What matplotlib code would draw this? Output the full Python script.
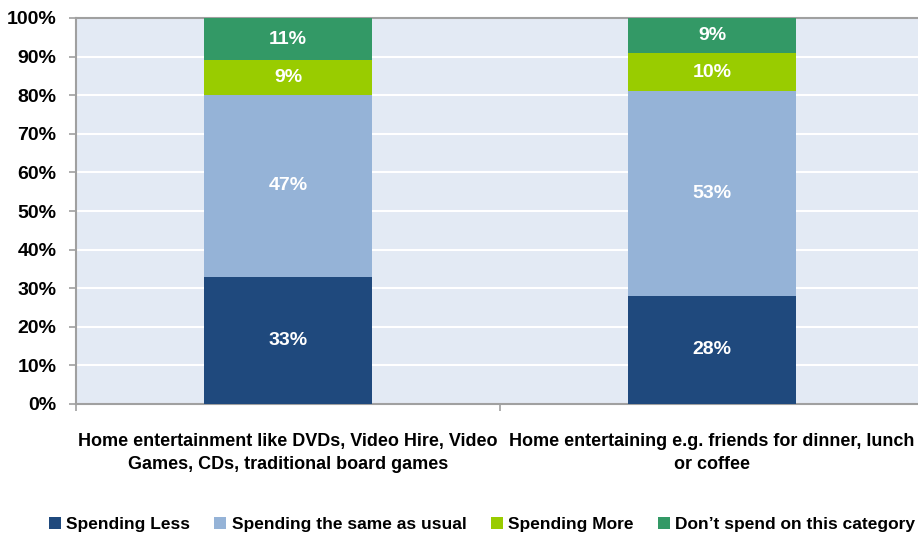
import numpy as np
import matplotlib
matplotlib.use("Agg")
from matplotlib import pyplot as plt
from matplotlib.ticker import FixedLocator

plt.rcParams['font.family'] = ['Liberation Sans', 'DejaVu Sans']
plt.rcParams['font.weight'] = 'bold'

categories = ['Home entertainment like DVDs, Video Hire, Video\nGames, CDs, traditional board games',
              'Home entertaining e.g. friends for dinner, lunch\nor coffee']
series = ['Spending Less', 'Spending the same as usual', 'Spending More',
          'Don\u2019t spend on this category']
less = [33, 28]
same = [47, 53]
more = [9, 10]
dont = [11, 9]
colors = ['#1F497D', '#95B3D7', '#99CC00', '#339966']

fig = plt.figure(figsize=(9.18, 5.36), dpi=100)
ax = fig.add_axes([76/918, 1-404/536, (924-76)/918, (404-18)/536])
ax.set_facecolor('#E3EAF4')

x = np.arange(len(categories))
bottom = np.zeros(len(categories))
for name, vals, c in zip(series, [less, same, more, dont], colors):
    vals = np.array(vals, dtype=float)
    ax.bar(x, vals, 0.396, bottom=bottom, color=c, label=name, zorder=3)
    for xi, v, b in zip(x, vals, bottom):
        ax.text(xi, b + v/2, f'{int(v)}%', ha='center', va='center',
                color='white', fontsize=14, fontweight='bold', zorder=4)
    bottom += vals

ax.set_xlim(-0.5, 1.5)
ax.set_ylim(0, 100)
ax.set_yticks(np.arange(0, 101, 10))
ax.set_yticklabels([f'{v}%' for v in range(0, 101, 10)], fontsize=14)
ax.yaxis.grid(True, color='white', linewidth=1.5, zorder=1)
ax.tick_params(axis='y', length=5, color='#A0A0A0', width=1.2, pad=9)

ax.set_xticks(x)
ax.set_xticklabels(categories, fontsize=13, linespacing=1.45)
ax.xaxis.set_minor_locator(FixedLocator([-0.5, 0.5, 1.5]))
ax.tick_params(axis='x', which='major', length=0, pad=21)
ax.tick_params(axis='x', which='minor', length=5, color='#A0A0A0', width=1.2)

for s in ['left', 'bottom', 'top']:
    ax.spines[s].set_color('#A0A0A0')
    ax.spines[s].set_linewidth(1.5)
ax.spines['right'].set_visible(False)

fig.legend(loc='lower center', bbox_to_anchor=(0.525, -0.022), ncol=4, frameon=False,
           fontsize=12.5, handlelength=0.7, handleheight=0.7, handletextpad=0.3,
           columnspacing=1.4)

fig.savefig('out.png', dpi=100)
